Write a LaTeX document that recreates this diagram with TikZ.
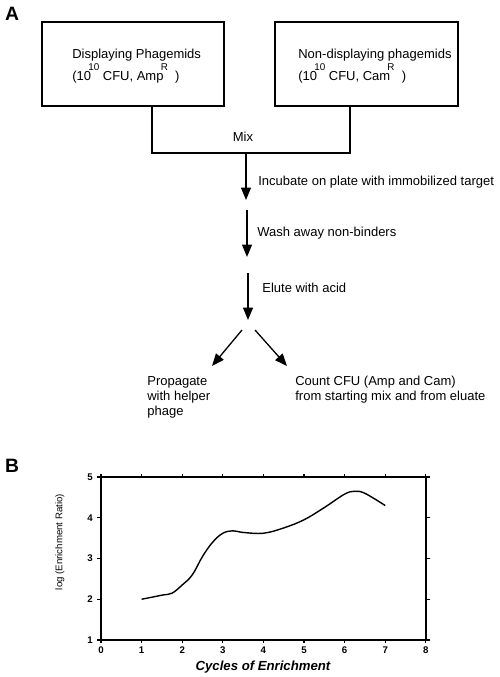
\documentclass[tikz,border=0pt]{standalone}
\usepackage{fontspec}
\setmainfont{Liberation Sans}
\usetikzlibrary{arrows.meta, positioning}

\newcommand\hisup[1]{\kern-1.6pt\raisebox{5.6pt}{\fontsize{5.6}{6}\selectfont #1}}

\begin{document}
\begin{tikzpicture}[
    x=0.02cm, y=-0.02cm,
    font=\fontsize{7.4}{8.6}\selectfont,
    box/.style={draw, line width=0.7pt, minimum width=3.64cm, minimum height=1.68cm},
    txt/.style={anchor=west, align=left, inner sep=0pt},
    stepline/.style={-{Triangle[length=7pt, width=5.6pt]}, line width=0.75pt},
    panel/.style={font=\fontsize{11}{12}\selectfont\bfseries, inner sep=0pt},
    ticklbl/.style={font=\fontsize{5.5}{6}\selectfont\bfseries, inner sep=0pt}
]
    \useasboundingbox (0,0) rectangle (500,677);

    % panel A: selection scheme
    \node[panel] (labA) at (12,14) {A};
    \node[box] (disp) at (133,64) {};
    \node[box, minimum width=3.66cm] (nondisp) at (366.5,64) {};
    \node[txt, anchor=base west] (disptitle) at (72,58.5) {Displaying Phagemids};
    \node[txt, anchor=base west] (dispcfu) at (72,80) {(10\hisup{10} CFU, Amp\hisup{R}\ \ )};
    \node[txt, anchor=base west] (nontitle) at (298,58.5) {Non-displaying phagemids};
    \node[txt, anchor=base west] (noncfu) at (298,80) {(10\hisup{10} CFU, Cam\hisup{R}\ \ )};

    \coordinate (mixL) at (152,153);
    \coordinate (mixR) at (350,153);
    \draw[line width=0.7pt] (disp.south -| mixL) -- (mixL) -- (mixR) -- (nondisp.south -| mixR);
    \node (mix) at (243,137) {Mix};

    \coordinate (p0) at (246,153);
    \coordinate (p1) at (246,200);
    \coordinate (q0) at (247,210);
    \coordinate (q1) at (247,257);
    \coordinate (r0) at (248,273);
    \coordinate (r1) at (248,320);
    \draw[stepline] (p0) -- (p1);
    \draw[stepline] (q0) -- (q1);
    \draw[stepline] (r0) -- (r1);
    \node[txt] (incubate) at (258,182) {Incubate on plate with immobilized target};
    \node[txt] (wash) at (257,233) {Wash away non-binders};
    \node[txt] (elute) at (262,288) {Elute with acid};

    \coordinate (sL) at (242,330);
    \coordinate (sR) at (255,330);
    \node[txt, anchor=north west] (propagate) at (147,376) {Propagate\\with helper\\phage};
    \node[txt, anchor=north west] (count) at (295,376) {Count CFU (Amp and Cam)\\from starting mix and from eluate};
    \draw[stepline] (sL) -- (212,366) coordinate (tL);
    \draw[stepline] (sR) -- (287,366) coordinate (tR);

    % panel B: enrichment curve
    \node[panel] (labB) at (12,466) {B};
    \coordinate (org) at (101,640);
    \coordinate (corner) at (426,477);
    \draw[line width=0.75pt] (org) rectangle (corner);
    \foreach \c in {0,...,8} {
        \pgfmathsetmacro\xx{101+40.6*\c}
        \draw[line width=0.6pt] (\xx,640) -- (\xx,643);
        \draw[line width=0.6pt] (\xx,477) -- (\xx,474);
        \node[ticklbl] (xt\c) at (\xx,650) {\c};
    }
    \foreach \v in {1,...,5} {
        \pgfmathsetmacro\yy{640-40.75*(\v-1)}
        \draw[line width=0.6pt] (101,\yy) -- (97,\yy);
        \draw[line width=0.6pt] (426,\yy) -- (430,\yy);
        \node[ticklbl] (yt\v) at (90,\yy) {\v};
    }
    \node[rotate=90, font=\fontsize{5.5}{6}\selectfont] (ylab) at (60,542) {log (Enrichment Ratio)};
    \node[font=\fontsize{7.5}{8}\selectfont\bfseries\itshape] (xlab) at (263,667) {Cycles of Enrichment};

    \begin{scope}[shift={(101,640)}, xscale=40.6, yscale=-40.75]
        \draw[line width=0.8pt] plot[smooth, tension=0.6] coordinates {
            (1,1.0) (1.5,1.1) (1.75,1.15) (2,1.35) (2.25,1.6) (2.5,2.05) (2.75,2.4)
            (3,2.62) (3.25,2.68) (3.5,2.64) (4,2.62) (4.5,2.75) (5,2.95) (5.5,3.25)
            (6,3.58) (6.25,3.65) (6.5,3.6) (7,3.3)};
    \end{scope}
\end{tikzpicture}
\end{document}
